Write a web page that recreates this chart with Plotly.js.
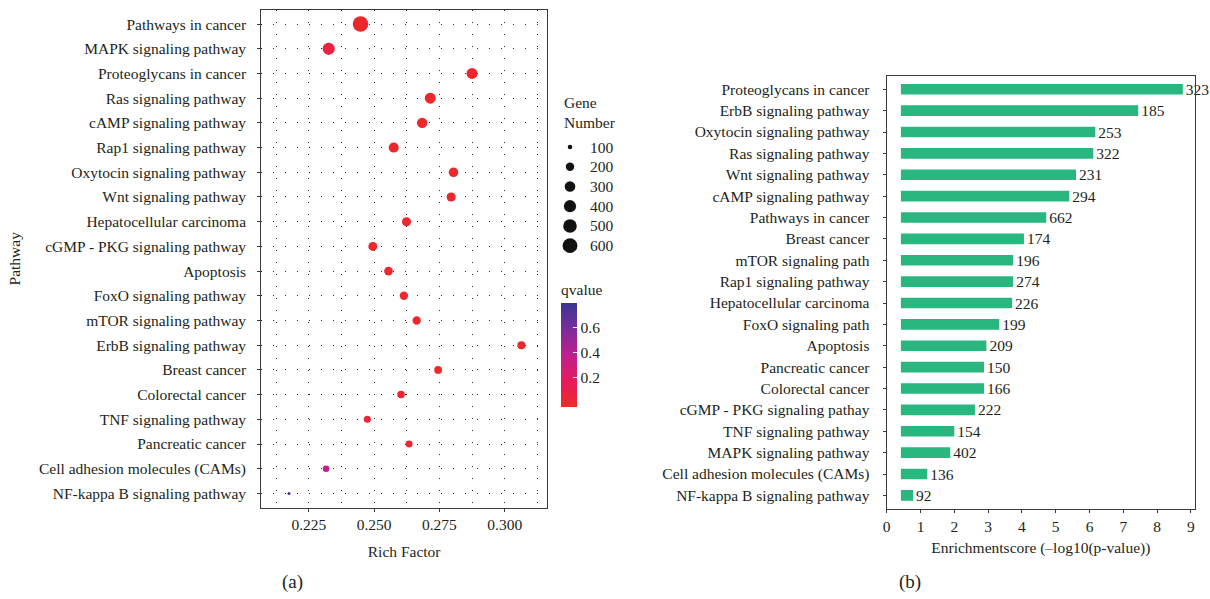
<!DOCTYPE html>
<html>
<head>
<meta charset="utf-8">
<script src="https://cdn.plot.ly/plotly-3.0.1.min.js"></script>
<style>html,body{margin:0;padding:0;background:#fff;}#chart{width:1210px;height:599px;}</style>
</head>
<body>
<div id="chart"></div>
<script>
// ---------- Panel (a): bubble chart ----------
const pathwaysA = ["Pathways in cancer","MAPK signaling pathway","Proteoglycans in cancer","Ras signaling pathway","cAMP signaling pathway","Rap1 signaling pathway","Oxytocin signaling pathway","Wnt signaling pathway","Hepatocellular carcinoma","cGMP - PKG signaling pathway","Apoptosis","FoxO signaling pathway","mTOR signaling pathway","ErbB signaling pathway","Breast cancer","Colorectal cancer","TNF signaling pathway","Pancreatic cancer","Cell adhesion molecules (CAMs)","NF-kappa B signaling pathway"];
const richFactor = [0.2448,0.2326,0.2875,0.2715,0.2684,0.2575,0.2804,0.2795,0.2624,0.2495,0.2555,0.2614,0.2663,0.3064,0.2745,0.2603,0.2474,0.2634,0.2316,0.2174];
const geneNumberA = [662,402,323,322,294,274,253,231,226,222,209,199,196,185,174,166,154,150,136,92];
const qvalue = [0.001,0.08,0.001,0.002,0.002,0.004,0.002,0.004,0.006,0.01,0.012,0.01,0.008,0.002,0.005,0.015,0.03,0.02,0.38,0.78];
const sizeLegend = [100,200,300,400,500,600];

// ---------- Panel (b): bar chart ----------
const pathwaysB = ["Proteoglycans in cancer","ErbB signaling pathway","Oxytocin signaling pathway","Ras signaling pathway","Wnt signaling pathway","cAMP signaling pathway","Pathways in cancer","Breast cancer","mTOR signaling path","Rap1 signaling pathway","Hepatocellular carcinoma","FoxO signaling path","Apoptosis","Pancreatic cancer","Colorectal cancer","cGMP - PKG signaling pathay","TNF signaling pathway","MAPK signaling pathway","Cell adhesion molecules (CAMs)","NF-kappa B signaling pathway"];
const enrichScore = [8.76,7.44,6.17,6.11,5.60,5.40,4.72,4.06,3.74,3.74,3.71,3.33,2.95,2.88,2.88,2.61,2.00,1.88,1.20,0.78];
const geneNumberB = [323,185,253,322,231,294,662,174,196,274,226,199,209,150,166,222,154,402,136,92];

// ---------- styling ----------
const W = 1210, H = 599;
const FONT = "Liberation Serif, Times New Roman, serif";
const FS = 15.5;
const TXT = "#231F20";
const px = v => v / W;            // horizontal pixel -> paper
const py = v => 1 - v / H;        // vertical pixel -> paper
const gMin = Math.min(...geneNumberA), gMax = Math.max(...geneNumberA);
const sizeScale = g => 3 + 12.5 * Math.sqrt(Math.max(0, (g - gMin) / (gMax - gMin)));
const BAR_BASE = 0.42;
const colorscale = [[0,'#EE2B24'],[0.25,'#E8195E'],[0.5,'#BF1F8E'],[0.75,'#7B2C9A'],[1,'#3A3592']];
const dotGrid = {griddash:'1px,11px', gridcolor:'#2a2a2a', gridwidth:1};
const f = (size) => ({family:FONT, size:size || FS, color:TXT});

const traces = [
  {
    type:'scatter', mode:'markers', xaxis:'x', yaxis:'y',
    x: richFactor, y: pathwaysA,
    marker:{
      size: geneNumberA.map(sizeScale), sizemode:'diameter',
      color: qvalue, colorscale: colorscale, cmin:-0.028, cmax:0.797,
      line:{width:0}, opacity:1,
      showscale:true,
      colorbar:{
        x:px(561), xanchor:'left', y:py(406.7), yanchor:'bottom',
        len:126, lenmode:'pixels', thickness:16, thicknessmode:'pixels',
        outlinewidth:0, xpad:0, ypad:0,
        tickvals:[0.2,0.4,0.6], ticktext:['0.2','0.4','0.6'],
        ticks:'inside', ticklen:4, tickcolor:'#ffffff', tickwidth:1,
        tickfont:f(),
        title:{text:'qvalue', side:'top', font:f()}
      }
    },
    hoverinfo:'x+y'
  },
  {
    type:'scatter', mode:'markers', xaxis:'x3', yaxis:'y3',
    x: sizeLegend.map(() => 10), y: sizeLegend.map((s, i) => i),
    marker:{size: sizeLegend.map(sizeScale), color:'#111111', opacity:1, line:{width:0}},
    hoverinfo:'skip'
  },
  {
    type:'bar', orientation:'h', xaxis:'x2', yaxis:'y2',
    y: pathwaysB, x: enrichScore.map(v => v - BAR_BASE), base: BAR_BASE,
    width:0.5,
    marker:{color:'#29B77F', line:{width:0}},
    text: geneNumberB.map(String), textposition:'outside', constraintext:'none',
    textfont:f(), cliponaxis:false,
    hoverinfo:'y'
  }
];

const axisCommon = {
  showline:true, mirror:true, linecolor:'#3a3a3a', linewidth:1.3,
  ticks:'outside', ticklen:3, tickcolor:'#3a3a3a', tickwidth:1,
  tickfont:f(), zeroline:false, automargin:false, fixedrange:true
};

const layout = {
  width:W, height:H, margin:{l:0,r:0,t:0,b:0},
  paper_bgcolor:'#ffffff', plot_bgcolor:'#ffffff',
  showlegend:false,
  font:f(),
  xaxis: Object.assign({}, axisCommon, {
    domain:[px(261.3), px(547)], range:[0.2068, 0.3162],
    tick0:0.2, dtick:0.025, tickformat:'.3f',
    showgrid:true, ...dotGrid,
    minor:{dtick:0.0125, tick0:0.2, showgrid:true, ...dotGrid, ticks:''},
    title:{text:'Rich Factor', standoff:13, font:f()},
    anchor:'y'
  }),
  yaxis: Object.assign({}, axisCommon, {
    domain:[py(507.5), py(10)], type:'category', categoryorder:'array', categoryarray:pathwaysA,
    range:[19.57, -0.57], showgrid:true, ...dotGrid, ticklabelstandoff:8,
    title:{text:'Pathway', standoff:14, font:f()},
    anchor:'x'
  }),
  xaxis2: Object.assign({}, axisCommon, {
    domain:[px(886.7), px(1195)], range:[0, 9.12], dtick:1, tick0:0, showgrid:false,
    title:{text:'Enrichmentscore (\u2013log10(p-value))', standoff:8, font:f()},
    anchor:'y2'
  }),
  yaxis2: Object.assign({}, axisCommon, {
    domain:[py(509.3), py(76)], type:'category', categoryorder:'array', categoryarray:pathwaysB,
    range:[19.65, -0.62], showgrid:false, ticklabelstandoff:10,
    anchor:'x2'
  }),
  xaxis3:{domain:[px(560), px(640)], range:[0,80], visible:false, fixedrange:true, anchor:'y3'},
  yaxis3:{domain:[py(255.5), py(137.2)], range:[5.5,-0.5], visible:false, fixedrange:true, anchor:'x3'},
  annotations: [
    {xref:'paper', yref:'paper', x:px(562), y:py(112.5), xanchor:'left', yanchor:'middle', align:'left',
     text:'Gene<br>Number', showarrow:false, font:f()},
    ...sizeLegend.map((s, i) => ({xref:'x3', yref:'y3', x:28, y:i, xanchor:'left', yanchor:'middle',
      text:String(s), showarrow:false, font:f()})),
    {xref:'paper', yref:'paper', x:px(292), y:py(582), xanchor:'center', yanchor:'middle',
     text:'(a)', showarrow:false, font:f(19)},
    {xref:'paper', yref:'paper', x:px(910), y:py(582), xanchor:'center', yanchor:'middle',
     text:'(b)', showarrow:false, font:f(19)}
  ]
};

Plotly.newPlot('chart', traces, layout, {displayModeBar:false});
</script>
</body>
</html>
